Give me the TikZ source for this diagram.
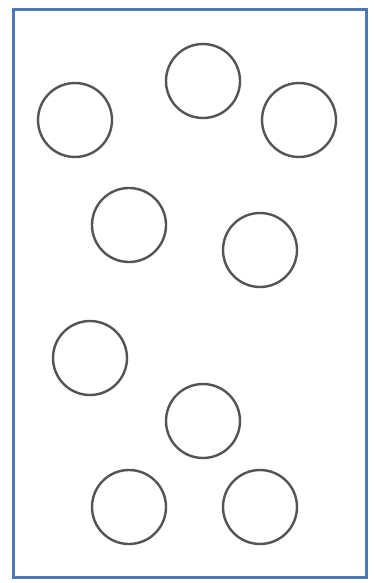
\documentclass[tikz,border=0pt]{standalone}
\begin{document}
\begin{tikzpicture}[x=1pt,y=-1pt,
  ball/.style={circle,draw=black!67,line width=2.4pt,minimum size=74pt,inner sep=0pt}]
\definecolor{frameblue}{HTML}{4A78B8}
\useasboundingbox (0,0) rectangle (375,583);
\fill[white] (0,0) rectangle (375,583);
\draw[frameblue,line width=3pt] (13,10) rectangle (366,577);
\node[ball] (c1) at (75,120) {};
\node[ball] (c2) at (203,81) {};
\node[ball] (c3) at (299,120) {};
\node[ball] (c4) at (129,225) {};
\node[ball] (c5) at (260,250) {};
\node[ball] (c6) at (90,358) {};
\node[ball] (c7) at (203,421) {};
\node[ball] (c8) at (129,507) {};
\node[ball] (c9) at (260,507) {};
\end{tikzpicture}
\end{document}
